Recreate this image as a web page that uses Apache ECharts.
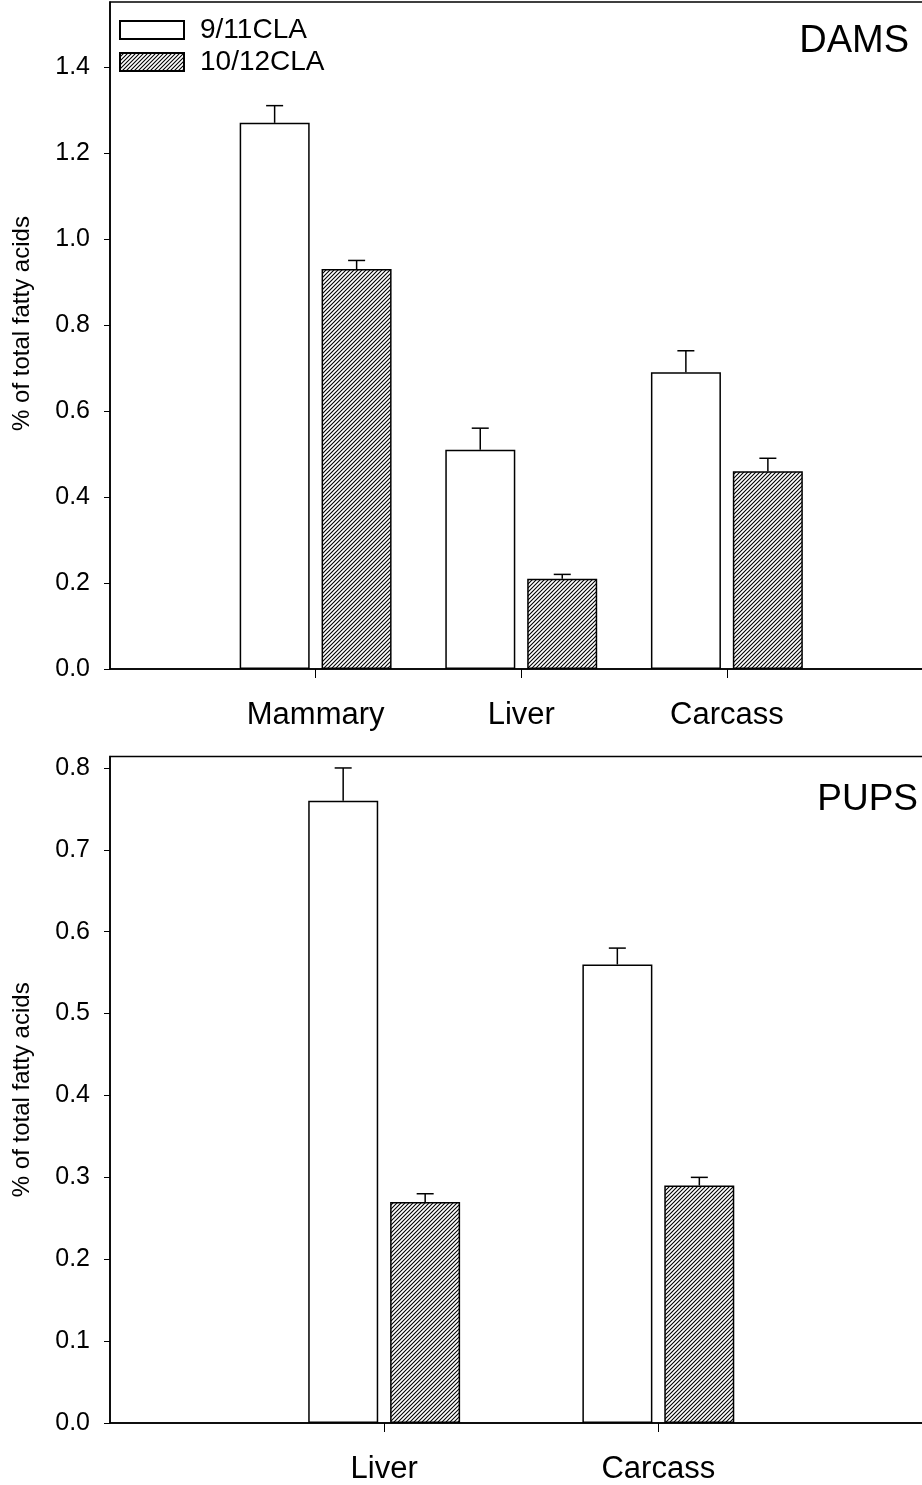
<!DOCTYPE html>
<html>
<head>
<meta charset="utf-8">
<title>CLA isomers in dams and pups</title>
<script src="https://cdn.jsdelivr.net/npm/echarts@6/dist/echarts.min.js"></script>
<style>
  html, body { margin: 0; padding: 0; background: #fff; overflow: hidden; width: 922px; height: 1485px; }
  /* the plot frames run slightly past the right edge of the page */
  #chart { width: 940px; height: 1485px; }
</style>
</head>
<body>
<div id="chart"></div>
<script>
// Tissue categories per panel
const damsTissues = ['Mammary', 'Liver', 'Carcass'];
const pupsTissues = ['Liver', 'Carcass'];

// Means (% of total fatty acids) and SEM, dams
const dams911 = [1.27, 0.51, 0.69];
const dams911Err = [0.04, 0.05, 0.05];
const dams1012 = [0.93, 0.21, 0.46];
const dams1012Err = [0.02, 0.01, 0.03];

// Means and SEM, pups
const pups911 = [0.76, 0.56];
const pups911Err = [0.04, 0.02];
const pups1012 = [0.27, 0.29];
const pups1012Err = [0.01, 0.01];

// Y tick values
const damsTicks = [0, 0.2, 0.4, 0.6, 0.8, 1.0, 1.2, 1.4];
const pupsTicks = [0, 0.1, 0.2, 0.3, 0.4, 0.5, 0.6, 0.7, 0.8];

const seriesNames = ['9/11CLA', '10/12CLA'];
const FONT = '"Liberation Sans", Arial, Helvetica, sans-serif';

// Diagonal hatch fill for the 10/12 isomer
function makeHatch() {
  const s = 4;
  const c = document.createElement('canvas');
  c.width = s; c.height = s;
  const g = c.getContext('2d');
  g.fillStyle = '#fff';
  g.fillRect(0, 0, s, s);
  g.strokeStyle = '#000';
  g.lineWidth = 1.1;
  g.beginPath();
  for (let k = -s; k <= s; k += s) {
    g.moveTo(k - 1, s + 1);
    g.lineTo(k + s + 1, -1);
  }
  g.stroke();
  return { image: c, repeat: 'repeat' };
}
const hatch = makeHatch();

const BAR_W = 70;
const HALF_STEP = 41; // centre offset of each bar from its tick

function toPoints(vals) { return vals.map((v, i) => [i + 1, v]); }
function toErr(vals, errs) { return vals.map((v, i) => [i + 1, v, errs[i]]); }

function errorSeries(gridIdx, vals, errs, offset) {
  return {
    type: 'custom',
    xAxisIndex: gridIdx,
    yAxisIndex: gridIdx,
    z: 5,
    silent: true,
    encode: { x: 0, y: 1 },
    data: toErr(vals, errs),
    renderItem: function (params, api) {
      const x = api.value(0), v = api.value(1), e = api.value(2);
      const p0 = api.coord([x, v]);
      const p1 = api.coord([x, v + e]);
      const cx = p0[0] + offset;
      const st = { stroke: '#000', lineWidth: 1.5 };
      return {
        type: 'group',
        children: [
          { type: 'line', shape: { x1: cx, y1: p0[1], x2: cx, y2: p1[1] }, style: st },
          { type: 'line', shape: { x1: cx - 8.5, y1: p1[1], x2: cx + 8.5, y2: p1[1] }, style: st }
        ]
      };
    }
  };
}

function barSeries(gridIdx, name, vals, fill) {
  return {
    type: 'bar',
    name: name,
    xAxisIndex: gridIdx,
    yAxisIndex: gridIdx,
    barWidth: BAR_W,
    barGap: '17%',
    data: toPoints(vals),
    itemStyle: { color: fill, borderColor: '#000', borderWidth: 1.5 },
    emphasis: { disabled: true }
  };
}

function xAxis(gridIdx, cats) {
  const pos = cats.map((c, i) => i + 1);
  return {
    type: 'value',
    gridIndex: gridIdx,
    min: 0,
    max: cats.length + 1,
    axisLine: { show: true, onZero: false, lineStyle: { color: '#000', width: 1.5 } },
    axisTick: { show: true, customValues: pos, length: 9, lineStyle: { color: '#000', width: 1 } },
    axisLabel: {
      customValues: pos,
      formatter: v => cats[Math.round(v) - 1] || '',
      color: '#000', fontFamily: FONT, fontSize: 31, margin: 31
    },
    splitLine: { show: false }
  };
}

function yAxis(gridIdx, ticks, max, namePad) {
  return {
    type: 'value',
    gridIndex: gridIdx,
    min: 0,
    max: max,
    name: '% of total fatty acids',
    nameLocation: 'middle',
    nameGap: 76,
    nameTextStyle: { color: '#000', fontFamily: FONT, fontSize: 24, padding: namePad },
    axisLine: { show: true, lineStyle: { color: '#000', width: 1.5 } },
    axisTick: { show: true, customValues: ticks, length: 6, lineStyle: { color: '#000', width: 1 } },
    axisLabel: {
      customValues: ticks,
      formatter: v => v.toFixed(1),
      color: '#000', fontFamily: FONT, fontSize: 25, margin: 20
    },
    splitLine: { show: false }
  };
}

const chart = echarts.init(document.getElementById('chart'), null, { renderer: 'canvas' });

chart.setOption({
  animation: false,
  backgroundColor: '#fff',
  title: [
    { text: 'DAMS', right: 31, top: 23, padding: 0, textStyle: { color: '#000', fontFamily: FONT, fontSize: 38, fontWeight: 'normal' } },
    { text: 'PUPS', right: 22, top: 781, padding: 0, textStyle: { color: '#000', fontFamily: FONT, fontSize: 37, fontWeight: 'normal' } }
  ],
  legend: {
    data: seriesNames,
    orient: 'vertical',
    left: 119,
    top: 16,
    padding: 0,
    itemWidth: 64,
    itemHeight: 18,
    itemGap: 4,
    icon: 'rect',
    selectedMode: false,
    textStyle: { color: '#000', fontFamily: FONT, fontSize: 28, padding: [0, 0, 0, 11] }
  },
  grid: [
    { left: 110, top: 2, width: 822.5, height: 667, show: true, borderColor: '#000', borderWidth: 1.5, backgroundColor: 'transparent', containLabel: false },
    { left: 110, top: 756.5, width: 822.5, height: 667.5, show: true, borderColor: '#000', borderWidth: 1.5, backgroundColor: 'transparent', containLabel: false }
  ],
  xAxis: [xAxis(0, damsTissues), xAxis(1, pupsTissues)],
  yAxis: [yAxis(0, damsTicks, 1.551, [0, 0, 0, 24]), yAxis(1, pupsTicks, 0.814, [0, 0, 0, 0])],
  series: [
    barSeries(0, seriesNames[0], dams911, '#fff'),
    barSeries(0, seriesNames[1], dams1012, hatch),
    errorSeries(0, dams911, dams911Err, -HALF_STEP),
    errorSeries(0, dams1012, dams1012Err, HALF_STEP),
    barSeries(1, seriesNames[0], pups911, '#fff'),
    barSeries(1, seriesNames[1], pups1012, hatch),
    errorSeries(1, pups911, pups911Err, -HALF_STEP),
    errorSeries(1, pups1012, pups1012Err, HALF_STEP)
  ]
});
</script>
</body>
</html>
